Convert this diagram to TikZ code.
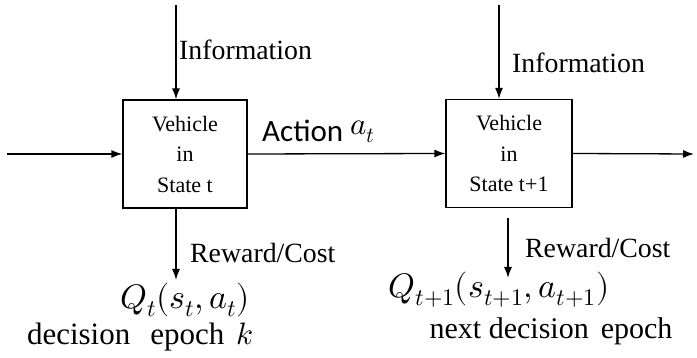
\documentclass[tikz,border=0pt]{standalone}
\usepackage{fontspec}
\usepackage{unicode-math}
\setmainfont{Liberation Serif}
\newfontfamily\actfont{Carlito}
\usetikzlibrary{arrows.meta}
\begin{document}
\begin{tikzpicture}[x=1pt, y=1pt,
    statebox/.style={draw, line width=1.3pt, minimum width=124pt, minimum height=108pt,
      align=center, font=\fontsize{22}{30.5}\selectfont},
    flow/.style={line width=1.3pt, -{Latex[length=11pt,width=8pt]}},
    lbl/.style={font=\fontsize{27.8}{32}\selectfont, inner sep=0pt}]
  \useasboundingbox (0,0) rectangle (697,358);

  % Zustaende
  \node[statebox] (box1) at (185,204) {Vehicle\\in\\State t};
  \node[statebox, minimum width=126pt] (box2) at (509,204.5) {Vehicle\\in\\State t+1};

  % Freie Enden
  \coordinate (in1) at (176,353);
  \coordinate (in2) at (499,353);
  \coordinate (start) at (7,204);
  \coordinate (end) at (694,204);
  \coordinate (rw1) at (176,78);
  \coordinate (rw2a) at (508,140);
  \coordinate (rw2b) at (508,80);

  % Pfeile
  \draw[flow] (in1) -- (in1 |- box1.north);
  \draw[flow] (start) -- (box1.west);
  \draw[flow] (in1 |- box1.south) -- (rw1);
  \draw[flow] (box1.east) -- (box2.west);
  \draw[flow] (in2) -- (in2 |- box2.north);
  \draw[flow] (box2.east) -- (end);
  \draw[flow] (rw2a) -- (rw2b);

  % Beschriftungen
  \node[lbl, anchor=west] (info1) at (179,308) {Information};
  \node[lbl, anchor=west] (info2) at (512,295) {Information};
  \node[lbl, anchor=base west] (act) at (262,216) {\fontsize{31}{34}\actfont Action~\raisebox{7pt}{$a_t$}};
  \node[lbl, anchor=west] (rc1) at (190,105) {Reward/Cost};
  \node[lbl, anchor=west] (rc2) at (525,110) {Reward/Cost};
  \node[lbl] (q1) at (185,58) {\fontsize{34}{38}\selectfont $Q_t(s_t,a_t)$};
  \node[lbl] (ep1) at (140,21) {\fontsize{31}{34}\selectfont decision\hspace{20pt}epoch\hspace{12pt}$k$};
  \node[lbl] (q2) at (499,68) {\fontsize{34}{38}\selectfont $Q_{t+1}(s_{t+1},a_{t+1})$};
  \node[lbl] (ep2) at (551,27) {\fontsize{30}{34}\selectfont next\ decision\hspace{12pt}epoch};
\end{tikzpicture}
\end{document}
